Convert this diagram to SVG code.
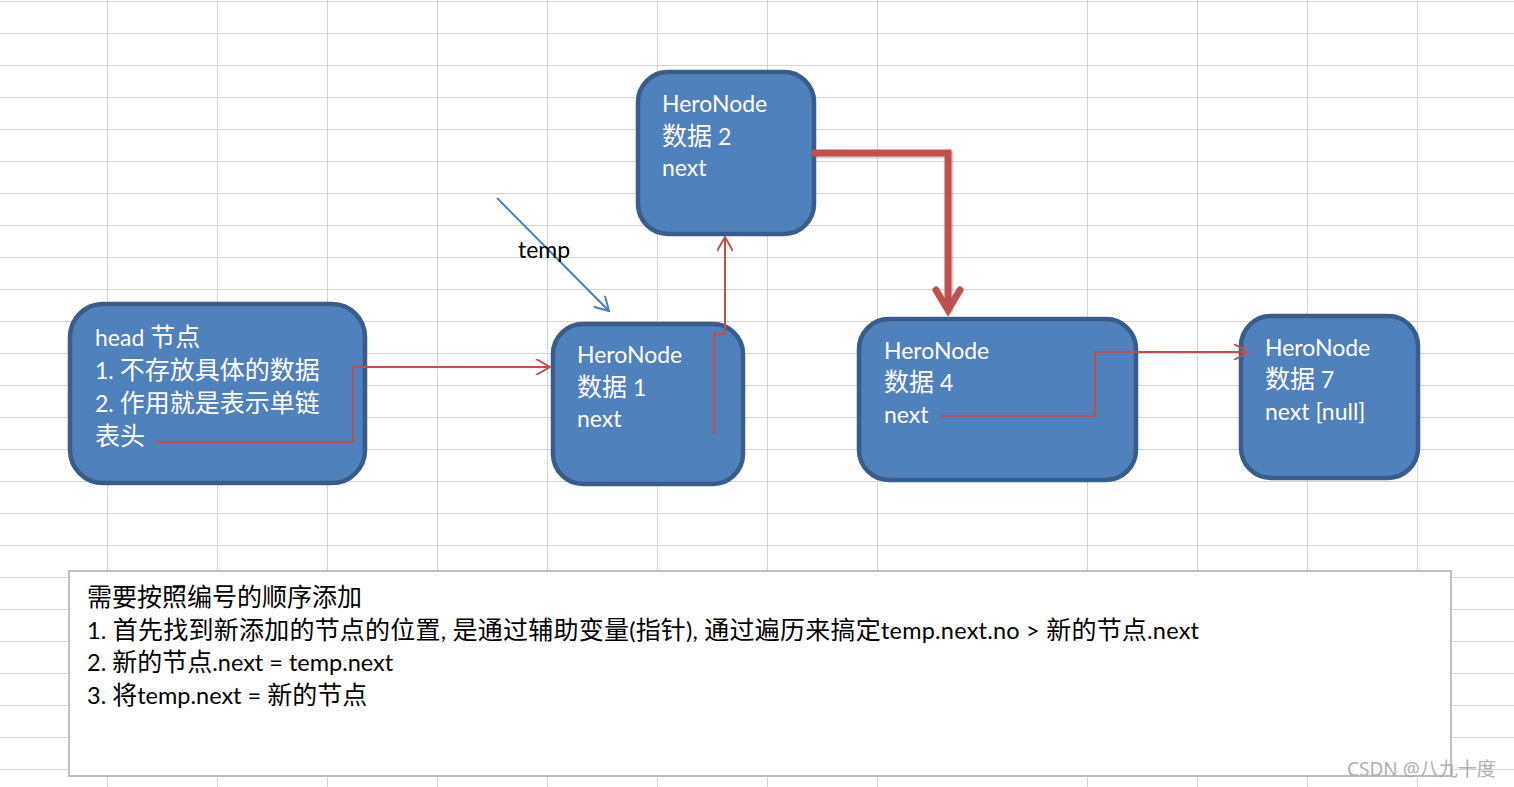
<svg xmlns="http://www.w3.org/2000/svg" width="1514" height="787" viewBox="0 0 1514 787">
<style>
.grid line{stroke:#d4d4d4;stroke-width:1}
.node rect{fill:#4f81bd;stroke:#385d8a;stroke-width:4.5}
.nt{font-family:Lato,"Noto Sans CJK SC",sans-serif;font-size:23px;fill:#ffffff}
.bt{font-family:Lato,"Noto Sans CJK SC",sans-serif;font-size:23.5px;fill:#000000}
.c{font-family:"Noto Sans CJK SC",sans-serif;font-size:25px}
.thin{fill:none;stroke:#c0504d;stroke-width:2}
.blue{fill:none;stroke:#4a7ebb;stroke-width:2}
.thick{fill:none;stroke:#c0504d;stroke-width:7;stroke-linejoin:miter;stroke-linecap:round}
.shadow{fill:none;stroke:#7f7f7f;stroke-opacity:0.35;stroke-width:7;stroke-linecap:round}
</style>
<defs>
<marker id="ar" viewBox="0 0 16 16" refX="15" refY="8" markerWidth="16" markerHeight="16" markerUnits="userSpaceOnUse" orient="auto">
<path d="M1,0 L15,8 L1,16" fill="none" stroke="#c0504d" stroke-width="2"/>
</marker>
<marker id="ab" viewBox="0 0 16 16" refX="15" refY="8" markerWidth="16" markerHeight="16" markerUnits="userSpaceOnUse" orient="auto">
<path d="M1,0 L15,8 L1,16" fill="none" stroke="#4a7ebb" stroke-width="2"/>
</marker>
</defs>
<rect x="0" y="0" width="1514" height="787" fill="#ffffff"/>
<g class="grid">
<line x1="0" y1="1.5" x2="1514" y2="1.5"/>
<line x1="0" y1="33.5" x2="1514" y2="33.5"/>
<line x1="0" y1="65.5" x2="1514" y2="65.5"/>
<line x1="0" y1="97.5" x2="1514" y2="97.5"/>
<line x1="0" y1="129.5" x2="1514" y2="129.5"/>
<line x1="0" y1="161.5" x2="1514" y2="161.5"/>
<line x1="0" y1="193.5" x2="1514" y2="193.5"/>
<line x1="0" y1="225.5" x2="1514" y2="225.5"/>
<line x1="0" y1="257.5" x2="1514" y2="257.5"/>
<line x1="0" y1="289.5" x2="1514" y2="289.5"/>
<line x1="0" y1="321.5" x2="1514" y2="321.5"/>
<line x1="0" y1="353.5" x2="1514" y2="353.5"/>
<line x1="0" y1="385.5" x2="1514" y2="385.5"/>
<line x1="0" y1="417.5" x2="1514" y2="417.5"/>
<line x1="0" y1="449.5" x2="1514" y2="449.5"/>
<line x1="0" y1="481.5" x2="1514" y2="481.5"/>
<line x1="0" y1="513.5" x2="1514" y2="513.5"/>
<line x1="0" y1="545.5" x2="1514" y2="545.5"/>
<line x1="0" y1="577.5" x2="1514" y2="577.5"/>
<line x1="0" y1="609.5" x2="1514" y2="609.5"/>
<line x1="0" y1="641.5" x2="1514" y2="641.5"/>
<line x1="0" y1="673.5" x2="1514" y2="673.5"/>
<line x1="0" y1="705.5" x2="1514" y2="705.5"/>
<line x1="0" y1="737.5" x2="1514" y2="737.5"/>
<line x1="0" y1="769.5" x2="1514" y2="769.5"/>
<line x1="107.5" y1="0" x2="107.5" y2="787"/>
<line x1="217.5" y1="0" x2="217.5" y2="787"/>
<line x1="327.5" y1="0" x2="327.5" y2="787"/>
<line x1="437.5" y1="0" x2="437.5" y2="787"/>
<line x1="547.5" y1="0" x2="547.5" y2="787"/>
<line x1="657.5" y1="0" x2="657.5" y2="787"/>
<line x1="767.5" y1="0" x2="767.5" y2="787"/>
<line x1="877.5" y1="0" x2="877.5" y2="787"/>
<line x1="1087.5" y1="0" x2="1087.5" y2="787"/>
<line x1="1197.5" y1="0" x2="1197.5" y2="787"/>
<line x1="1307.5" y1="0" x2="1307.5" y2="787"/>
<line x1="1417.5" y1="0" x2="1417.5" y2="787"/>
</g>
<g id="node-head" class="node">
<rect x="70" y="304" width="295" height="179" rx="33"/>
<text class="nt" x="95" y="346">head <tspan class="c">节点</tspan></text>
<text class="nt" x="95" y="379">1. <tspan class="c">不存放具体的数据</tspan></text>
<text class="nt" x="95" y="412">2. <tspan class="c">作用就是表示单链</tspan></text>
<text class="nt" x="95" y="445"><tspan class="c">表头</tspan></text>
</g>
<g id="node-1" class="node">
<rect x="553" y="324" width="190" height="160" rx="30"/>
<text class="nt" x="577" y="363">HeroNode</text>
<text class="nt" x="577" y="396"><tspan class="c">数据</tspan> 1</text>
<text class="nt" x="577" y="427">next</text>
</g>
<g id="node-2" class="node">
<rect x="638" y="72" width="176" height="162" rx="30"/>
<text class="nt" x="662" y="112">HeroNode</text>
<text class="nt" x="662" y="145"><tspan class="c">数据</tspan> 2</text>
<text class="nt" x="662" y="176">next</text>
</g>
<g id="node-4" class="node">
<rect x="859" y="319" width="277" height="161" rx="30"/>
<text class="nt" x="884" y="359">HeroNode</text>
<text class="nt" x="884" y="391"><tspan class="c">数据</tspan> 4</text>
<text class="nt" x="884" y="423">next</text>
</g>
<g id="node-7" class="node">
<rect x="1241" y="316" width="177" height="162" rx="30"/>
<text class="nt" x="1265" y="356">HeroNode</text>
<text class="nt" x="1265" y="388"><tspan class="c">数据</tspan> 7</text>
<text class="nt" x="1265" y="420">next [null]</text>
</g>
<g id="connectors">
<polyline class="thin" points="155,442 353,442 353,367 550,367" marker-end="url(#ar)"/>
<polyline class="thin" points="714,434 714,334 725,334 725,237" marker-end="url(#ar)"/>
<g transform="translate(2,2)">
<polyline class="shadow" points="815,153 948,153 948,308"/>
</g>
<polyline class="thick" points="815,153 948,153 948,308"/>
<path class="thick" d="M936,290 L948,310 L960,290"/>
<polyline class="thin" points="941,416 1095,416 1095,352 1248,352" marker-end="url(#ar)"/>
<line class="blue" x1="497" y1="198" x2="609" y2="311" marker-end="url(#ab)"/>
<text x="518" y="258" font-family="Lato,sans-serif" font-size="23" fill="#000000">temp</text>
</g>
<g id="note">
<rect x="69" y="571" width="1382" height="205" fill="#ffffff" stroke="#bdbdbd" stroke-width="2"/>
<text class="bt" x="87" y="606"><tspan class="c">需要按照编号的顺序添加</tspan></text>
<text class="bt" x="87" y="638.5" textLength="1112" lengthAdjust="spacing">1. <tspan class="c">首先找到新添加的节点的位置</tspan>, <tspan class="c">是通过辅助变量</tspan>(<tspan class="c">指针</tspan>), <tspan class="c">通过遍历来搞定</tspan>temp.next.no &gt; <tspan class="c">新的节点</tspan>.next</text>
<text class="bt" x="87" y="671">2. <tspan class="c">新的节点</tspan>.next = temp.next</text>
<text class="bt" x="87" y="703.5">3. <tspan class="c">将</tspan>temp.next = <tspan class="c">新的节点</tspan></text>
</g>
<text x="1347" y="776" font-family="'Noto Sans','Noto Sans CJK SC',sans-serif" font-size="19" fill="#b0b0b0">CSDN @<tspan font-family="'Noto Sans CJK SC',sans-serif">八九十度</tspan></text>
</svg>
